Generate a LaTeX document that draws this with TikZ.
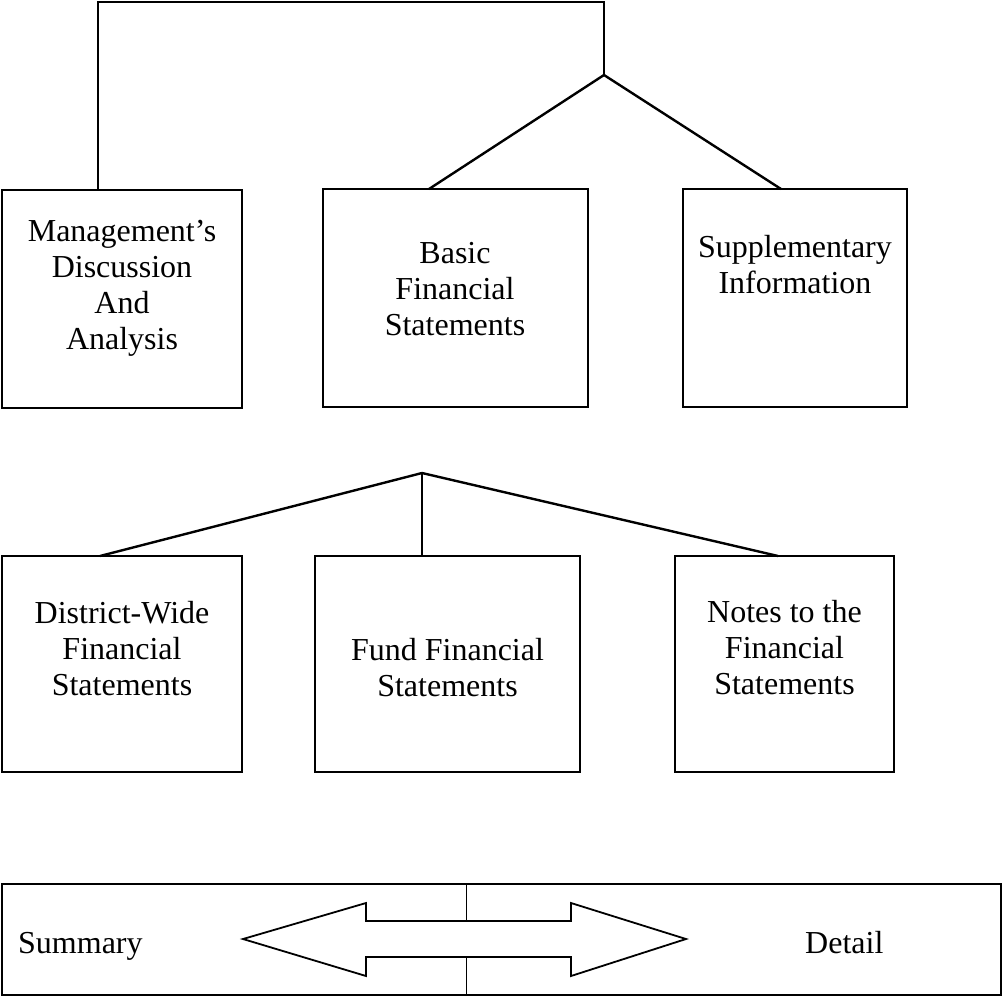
\documentclass[tikz,border=0pt]{standalone}
\usepackage{fontspec}
\setmainfont{Liberation Serif}
\usetikzlibrary{calc}
\tikzset{
  box/.style={draw, line width=1.6pt, inner sep=0pt, outer sep=0pt, anchor=north west},
  conn/.style={line width=2pt},
  diag/.style={line width=2.4pt},
  thin/.style={line width=1pt},
  lbl/.style={anchor=base, inner sep=0pt, font=\fontsize{32}{36}\selectfont},
  side/.style={anchor=base west, inner sep=0pt, font=\fontsize{32}{36}\selectfont},
  arrowshape/.style={draw, fill=white, line width=1.8pt, line join=miter}
}
\newcommand{\lines}[1]{\begin{tabular}[t]{@{}c@{}}#1\end{tabular}}
\begin{document}
\begin{tikzpicture}[x=1pt, y=-1pt]
\useasboundingbox (0,0) rectangle (1003,999);
% top row boxes
\node[box, minimum width=240pt, minimum height=218pt] (mda) at (2,190) {};
\node[box, minimum width=265pt, minimum height=218pt] (basic) at (323,189) {};
\node[box, minimum width=224pt, minimum height=218pt] (supp) at (683,189) {};
% second row boxes
\node[box, minimum width=240pt, minimum height=216pt] (dist) at (2,556) {};
\node[box, minimum width=265pt, minimum height=216pt] (fund) at (315,556) {};
\node[box, minimum width=219pt, minimum height=216pt] (notes) at (675,556) {};
% bottom box
\node[box, line width=1.8pt, minimum width=999pt, minimum height=111pt] (scale) at (2,884) {};

% labels
\node[lbl] (tmda) at (122,241) {\lines{Management’s\\Discussion\\And\\Analysis}};
\node[lbl] (tbasic) at (455,263) {\lines{Basic\\Financial\\Statements}};
\node[lbl] (tsupp) at (795,257) {\lines{Supplementary\\Information}};
\node[lbl] (tdist) at (122,623) {\lines{District-Wide\\Financial\\Statements}};
\node[lbl] (tfund) at (447.5,660) {\lines{Fund Financial\\Statements}};
\node[lbl] (tnotes) at (784.5,622) {\lines{Notes to the\\Financial\\Statements}};
\node[side] (tsum) at (18,953) {Summary};
\node[side] (tdet) at (805,953) {Detail};

% top connectors
\coordinate (ttop) at (604,2);
\coordinate (apex1) at (604,75);
\draw[conn] ([xshift=96pt]mda.north west) |- (ttop) -- (apex1);
\draw[diag] (apex1) -- ([xshift=106pt]basic.north west);
\draw[diag] (apex1) -- ([xshift=98pt]supp.north west);

% second connectors
\coordinate (apex2) at (422,473);
\draw[diag] (apex2) -- ([xshift=98pt]dist.north west);
\draw[conn] (apex2) -- ([xshift=107pt]fund.north west);
\draw[diag] (apex2) -- ([xshift=103pt]notes.north west);

% center divider and double arrow
\draw[arrowshape] (243,939) -- (366,903) -- (366,921) -- (571,921) -- (571,903)
  -- (686,939) -- (571,976) -- (571,957) -- (366,957) -- (366,976) -- cycle;
\draw[thin] ([xshift=464pt]scale.north west) -- (466,921);
\draw[thin] (466,957) -- ([xshift=464pt]scale.south west);
\end{tikzpicture}
\end{document}
